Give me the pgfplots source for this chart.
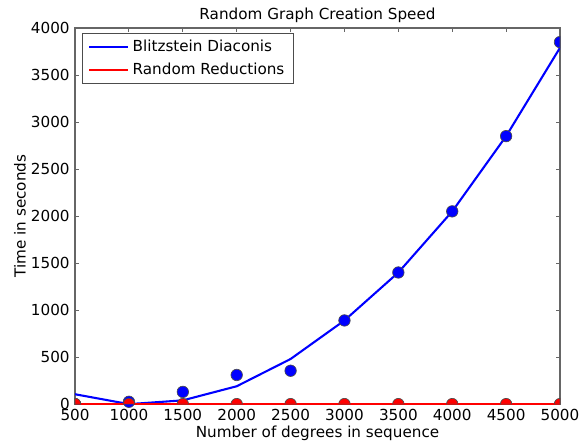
\documentclass[border=0pt]{standalone}
\usepackage{fontspec}
\setmainfont{DejaVu Sans}
\usepackage{pgfplots}
\pgfplotsset{compat=1.18}

% dots cut off by the axis border (as matplotlib clips them)
\pgfdeclareplotmark{tophalf}{%
  \pgfpathmoveto{\pgfqpoint{\pgfplotmarksize}{0pt}}%
  \pgfpatharc{0}{180}{\pgfplotmarksize}\pgfpathclose\pgfusepathqfillstroke}
\pgfdeclareplotmark{topright}{%
  \pgfpathmoveto{\pgfpointorigin}\pgfpathlineto{\pgfqpoint{\pgfplotmarksize}{0pt}}%
  \pgfpatharc{0}{90}{\pgfplotmarksize}\pgfpathclose\pgfusepathqfillstroke}
\pgfdeclareplotmark{topleft}{%
  \pgfpathmoveto{\pgfpointorigin}\pgfpathlineto{\pgfqpoint{0pt}{\pgfplotmarksize}}%
  \pgfpatharc{90}{180}{\pgfplotmarksize}\pgfpathclose\pgfusepathqfillstroke}
\pgfdeclareplotmark{lefthalf}{%
  \pgfpathmoveto{\pgfqpoint{0pt}{\pgfplotmarksize}}%
  \pgfpatharc{90}{270}{\pgfplotmarksize}\pgfpathclose\pgfusepathqfillstroke}

\begin{document}
\fontsize{9.5}{11.4}\selectfont
\begin{tikzpicture}
\begin{axis}[
  scale only axis,
  width=303pt, height=235pt,
  xmin=500, xmax=5000, ymin=0, ymax=4000,
  xtick={500,1000,...,5000}, ytick={0,500,...,4000},
  xticklabel={\pgfmathprintnumber[assume math mode=true,1000 sep={}]{\tick}},
  yticklabel={\pgfmathprintnumber[assume math mode=true,1000 sep={}]{\tick}},
  tick pos=both,
  tick align=inside, major tick length=2.5pt,
  tick style={black!60, line width=0.6pt},
  axis line style={black!60, line width=0.8pt},
  ticklabel style={font=\fontsize{9.5}{11.4}\selectfont},
  xticklabel style={yshift=0.3pt},
  every axis title shift=0pt,
  title={Random Graph Creation Speed},
  title style={at={([yshift=8.1pt]rel axis cs:0.5,1)}, anchor=center, font=\fontsize{9.5}{11.4}\selectfont},
  xlabel={Number of degrees in sequence},
  ylabel={Time in seconds},
  label style={font=\fontsize{9.5}{11.4}\selectfont},
  xlabel style={at={([yshift=-18.3pt]rel axis cs:0.5,0)}, anchor=center},
  ylabel style={at={([xshift=-34.4pt]rel axis cs:0,0.5)}, anchor=center},
  legend style={at={([xshift=4.4pt,yshift=-3.1pt]rel axis cs:0,1)}, anchor=north west,
    draw=black!70, line width=0.6pt, font=\fontsize{9.5}{11.4}\selectfont,
    inner xsep=3.5pt, inner ysep=2pt, row sep=1.8pt},
  legend cell align=left,
  legend image code/.code={\draw[#1, line width=1.3pt] (0pt,0pt) -- (17pt,0pt);
    \path (0pt,0pt) -- (24.5pt,0pt);},
]
\coordinate (bl) at (rel axis cs:0,0);
\coordinate (tr) at (rel axis cs:1,1);
% blue fitted curve
\addplot[blue, line width=1.3pt, mark=none] coordinates {
  (500,105) (1000,0) (1500,40) (2000,190) (2500,480) (3000,890)
  (3500,1400) (4000,2050) (4500,2850) (5000,3790)
};
\addlegendentry{Blitzstein Diaconis}
% red fitted curve
\addplot[red, line width=1.3pt, mark=none] coordinates {
  (500,0) (1000,0) (1500,0) (2000,0) (2500,0) (3000,0)
  (3500,0) (4000,0) (4500,0) (5000,0)
};
\addlegendentry{Random Reductions}
% blue measurements
\addplot[only marks, mark=*, mark size=3.6pt, mark options={fill=blue, draw=black!70, line width=0.4pt}, forget plot] coordinates {
  (1000,25) (1500,130) (2000,310) (2500,355) (3000,890)
  (3500,1400) (4000,2050) (4500,2850)
};
\addplot[only marks, mark=topright, mark size=3.6pt, mark options={fill=blue, draw=black!70, line width=0.4pt}, forget plot] coordinates {
  (500,0)
};
\addplot[only marks, mark=lefthalf, mark size=3.6pt, mark options={fill=blue, draw=black!70, line width=0.4pt}, forget plot] coordinates {
  (5000,3850)
};
% red measurements
\addplot[only marks, mark=tophalf, mark size=3.6pt, mark options={fill=red, draw=black!70, line width=0.4pt}, forget plot] coordinates {
  (1000,0) (1500,0) (2000,0) (2500,0) (3000,0)
  (3500,0) (4000,0) (4500,0)
};
\addplot[only marks, mark=topright, mark size=3.6pt, mark options={fill=red, draw=black!70, line width=0.4pt}, forget plot] coordinates {
  (500,0)
};
\addplot[only marks, mark=topleft, mark size=3.6pt, mark options={fill=red, draw=black!70, line width=0.4pt}, forget plot] coordinates {
  (5000,0)
};
\end{axis}
\pgfresetboundingbox
\path ([shift={(-46.9pt,-23.75pt)}]bl) rectangle ([shift={(17.5pt,17.5pt)}]tr);
\end{tikzpicture}
\end{document}
